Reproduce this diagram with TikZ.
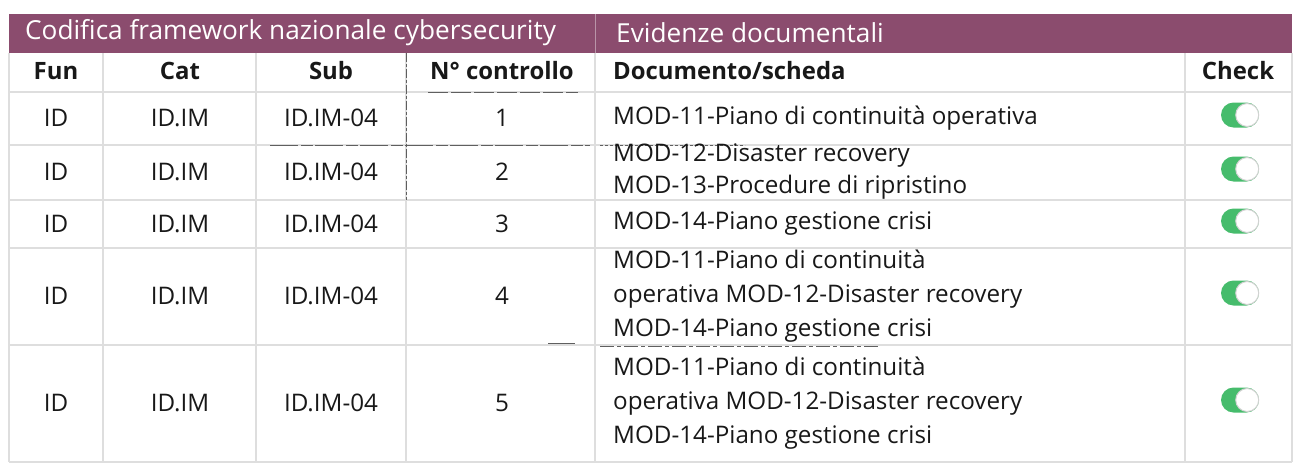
\documentclass[tikz,border=0pt]{standalone}
\usepackage{fontspec}
\setmainfont{Open Sans}
\usetikzlibrary{shapes.misc}
\definecolor{plum}{RGB}{139,76,110}
\definecolor{gridgrey}{RGB}{222,222,222}
\definecolor{scangrey}{RGB}{95,95,95}
\definecolor{togglegreen}{RGB}{70,188,108}
\definecolor{ink}{RGB}{24,24,24}
\begin{document}
\begin{tikzpicture}[x=1pt,y=-1pt,
  bartext/.style={text=white,font=\fontsize{26.2}{30}\selectfont,anchor=west,inner sep=0},
  colhead/.style={font=\bfseries\fontsize{23.9}{28}\selectfont,text=ink,inner sep=0},
  cell/.style={font=\fontsize{24.2}{34}\selectfont,text=ink,inner sep=0},
  doc/.style={cell,anchor=west,align=left},
  gridline/.style={draw=gridgrey,line width=1.3pt},
  scanline/.style={draw=scangrey,line width=0.9pt},
  track/.style={rounded rectangle,fill=togglegreen,minimum width=38pt,minimum height=25pt,inner sep=0},
  knob/.style={circle,fill=white,draw=gray!35,line width=1pt,minimum size=23pt,inner sep=0}]
\useasboundingbox (0,0) rectangle (1295,464);

% title bar
\fill[plum] (9,14) rectangle (1292,53);
\draw[plum!60!white,line width=1pt] (595,14) -- (595,53);
\node[bartext] (bar1) at (25,33) {Codifica framework nazionale cybersecurity};
\node[bartext] (bar2) at (616,33) {Evidenze documentali};

% table grid
\foreach \yy in {92,145,200,248,345,462}
  \draw[gridline] (9,\yy) -- (1292,\yy);
\foreach \xx in {9,103,256,406,595,1185,1292}
  \draw[gridline] (\xx,53) -- (\xx,462);

% darker ruled strokes over the grid
\draw[scanline,dash pattern=on 9pt off 2pt on 3pt off 2pt] (406,53) -- (406,200);
\draw[scanline,dash pattern=on 28pt off 3pt on 12pt off 2pt] (270,145) -- (590,145);
\draw[scanline,dash pattern=on 20pt off 3pt] (428,92) -- (578,92);
\draw[scanline,line width=0.7pt,dash pattern=on 3pt off 2pt] (600,145) -- (745,145);
\draw[scanline,line width=0.7pt,dash pattern=on 14pt off 3pt on 4pt off 3pt] (600,346) -- (880,346);
\draw[scanline,line width=0.7pt] (548,343) -- (575,343);

% column headings
\node[colhead] (hfun) at (56,71) {Fun};
\node[colhead] (hcat) at (180,71) {Cat};
\node[colhead] (hsub) at (331,71) {Sub};
\node[colhead] (hnum) at (502,71) {N° controllo};
\node[colhead,anchor=west] (hdoc) at (613,71) {Documento/scheda};
\node[colhead] (hchk) at (1238,71) {Check};

% rows
\foreach \i/\yy/\txt in {
  1/118/{MOD-11-Piano di continuità operativa},
  2/172/{MOD-12-Disaster recovery\\[-2pt]MOD-13-Procedure di ripristino},
  3/224/{MOD-14-Piano gestione crisi},
  4/296/{MOD-11-Piano di continuità\\operativa MOD-12-Disaster recovery\\MOD-14-Piano gestione crisi},
  5/403/{MOD-11-Piano di continuità\\operativa MOD-12-Disaster recovery\\MOD-14-Piano gestione crisi}}{
  \node[cell] (fun\i) at (56,\yy) {ID};
  \node[cell] (cat\i) at (180,\yy) {ID.IM};
  \node[cell] (sub\i) at (331,\yy) {ID.IM-04};
  \node[cell] (num\i) at (502,\yy) {\i};
  \node[doc] (doc\i) at (613,\yy) {\txt};
  \node[track] (chk\i) at (1240,\yy-3) {};
  \node[knob] (knob\i) at ([xshift=-12pt]chk\i.east) {};
}
\end{tikzpicture}
\end{document}
